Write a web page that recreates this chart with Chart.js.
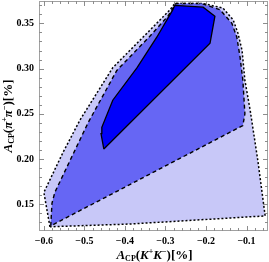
<!DOCTYPE html>
<html>
<head>
<meta charset="utf-8">
<script src="https://cdn.jsdelivr.net/npm/chart.js@4.4.0/dist/chart.umd.min.js"></script>
<style>
  html, body { margin: 0; padding: 0; background: #fff; }
</style>
</head>
<body>
<canvas id="acpChart" width="269" height="262"></canvas>
<script>
// tick values and labels
const xTicks = [-0.6, -0.5, -0.4, -0.3, -0.2, -0.1];
const xTickLabels = ['\u22120.6', '\u22120.5', '\u22120.4', '\u22120.3', '\u22120.2', '\u22120.1'];
const yTicks = [0.15, 0.20, 0.25, 0.30, 0.35];
const yTickLabels = ['0.15', '0.20', '0.25', '0.30', '0.35'];

// outer region (dotted border), A_CP(K+K-) and A_CP(pi+pi-) in %
const outerK  = [-0.585, -0.600, -0.553, -0.511, -0.430, -0.346, -0.289, -0.277, -0.207, -0.158, -0.133, -0.121, -0.111, -0.104, -0.091, -0.072, -0.054, -0.388];
const outerPi = [ 0.125,  0.163,  0.207,  0.243,  0.301,  0.339,  0.365,  0.372,  0.372,  0.367,  0.354,  0.339,  0.320,  0.287,  0.254,  0.198,  0.137,  0.128];

// middle region (dashed border)
const midK  = [-0.583, -0.580, -0.573, -0.491, -0.420, -0.338, -0.294, -0.274, -0.210, -0.165, -0.136, -0.124, -0.116, -0.109, -0.104, -0.109];
const midPi = [ 0.126,  0.151,  0.163,  0.240,  0.298,  0.336,  0.358,  0.372,  0.372,  0.365,  0.350,  0.335,  0.313,  0.287,  0.250,  0.237];

// inner region (solid border)
const innerK  = [-0.452, -0.459, -0.457, -0.430, -0.370, -0.321, -0.282, -0.277, -0.207, -0.178, -0.190];
const innerPi = [ 0.211,  0.228,  0.235,  0.265,  0.301,  0.335,  0.365,  0.370,  0.368,  0.358,  0.328];

const xMin = -0.612, xMax = -0.047;
const yMin = 0.1203, yMax = 0.3748;

function polygon(xs, ys) {
  const pts = xs.map((x, i) => ({ x, y: ys[i] }));
  pts.push({ x: xs[0], y: ys[0] });
  return pts;
}

function steps(from, to, step) {
  const out = [];
  for (let i = 0; from + i * step <= to + 1e-9; i++) out.push(+(from + i * step).toFixed(4));
  return out;
}
const xMinor = steps(-0.60, -0.06, 0.02);
const yMinor = steps(0.13, 0.37, 0.01);

const isMajor = (v, majors) => majors.some(m => Math.abs(m - v) < 1e-6);

const labelFont = { family: 'Liberation Serif', size: 10, weight: 'bold' };

function noPadding(s) {
  s.paddingTop = 0; s.paddingBottom = 0; s.paddingLeft = 0; s.paddingRight = 0;
}

// frame with inward ticks on all sides
const frame = {
  id: 'frame',
  afterDraw(chart) {
    const { ctx, chartArea: a, scales: { x, y } } = chart;
    ctx.save();
    ctx.strokeStyle = '#a0a0a0';
    ctx.lineWidth = 1;
    ctx.strokeRect(a.left + 0.5, a.top + 0.5, a.right - a.left - 1, a.bottom - a.top - 1);
    ctx.strokeStyle = '#8c8c8c';
    ctx.beginPath();
    xMinor.forEach(v => {
      const px = Math.round(x.getPixelForValue(v)) + 0.5;
      const len = isMajor(v, xTicks) ? 5 : 3;
      ctx.moveTo(px, a.bottom); ctx.lineTo(px, a.bottom - len);
      ctx.moveTo(px, a.top); ctx.lineTo(px, a.top + len);
    });
    yMinor.forEach(v => {
      const py = Math.round(y.getPixelForValue(v)) + 0.5;
      const len = isMajor(v, yTicks) ? 5 : 3;
      ctx.moveTo(a.left, py); ctx.lineTo(a.left + len, py);
      ctx.moveTo(a.right, py); ctx.lineTo(a.right - len, py);
    });
    ctx.stroke();
    ctx.restore();
  }
};

// axis titles with sub/superscripts
function drawRich(ctx, parts, cx, baseline) {
  let w = 0;
  parts.forEach(p => { ctx.font = p.f; p.w = ctx.measureText(p.t).width; w += p.w; });
  let xx = cx - w / 2;
  ctx.textAlign = 'left';
  ctx.textBaseline = 'alphabetic';
  parts.forEach(p => {
    ctx.font = p.f;
    ctx.fillText(p.t, xx, baseline + (p.dy || 0));
    xx += p.w;
  });
}

const big = 'bold 13px "Liberation Serif"';
const bigIt = 'italic bold 13px "Liberation Serif"';
const small = 'bold 8px "Liberation Serif"';

function titleParts(sym) {
  return [
    { t: 'A', f: bigIt },
    { t: 'CP', f: small, dy: 2 },
    { t: '(', f: big },
    { t: sym, f: bigIt },
    { t: '+', f: small, dy: -5 },
    { t: sym, f: bigIt },
    { t: '\u2212', f: small, dy: -5 },
    { t: ')[%]', f: big }
  ];
}

const titles = {
  id: 'titles',
  afterDraw(chart) {
    const { ctx, chartArea: a } = chart;
    ctx.save();
    ctx.fillStyle = '#000';
    drawRich(ctx, titleParts('K'), (a.left + a.right) / 2 + 1, 259);
    ctx.translate(12, (a.top + a.bottom) / 2);
    ctx.rotate(-Math.PI / 2);
    drawRich(ctx, titleParts('\u03C0'), 0, 0);
    ctx.restore();
  }
};

const ctx = document.getElementById('acpChart').getContext('2d');

new Chart(ctx, {
  type: 'scatter',
  data: {
    datasets: [
      {
        label: 'inner',
        data: polygon(innerK, innerPi),
        showLine: true,
        fill: 'shape',
        backgroundColor: '#0000fa',
        borderColor: '#000',
        borderWidth: 1.3,
        pointRadius: 0,
        pointHoverRadius: 0,
        tension: 0,
        order: 0
      },
      {
        label: 'middle',
        data: polygon(midK, midPi),
        showLine: true,
        fill: 'shape',
        backgroundColor: '#6666f4',
        borderColor: '#000',
        borderWidth: 1.4,
        borderDash: [4, 3],
        pointRadius: 0,
        pointHoverRadius: 0,
        tension: 0,
        order: 1
      },
      {
        label: 'outer',
        data: polygon(outerK, outerPi),
        showLine: true,
        fill: 'shape',
        backgroundColor: '#c8c8f8',
        borderColor: '#000',
        borderWidth: 1.5,
        borderDash: [2, 2],
        pointRadius: 0,
        pointHoverRadius: 0,
        tension: 0,
        order: 2
      }
    ]
  },
  options: {
    responsive: false,
    animation: false,
    devicePixelRatio: 1,
    events: [],
    layout: { autoPadding: false, padding: { top: 1, right: 1, left: 0, bottom: 0 } },
    plugins: { legend: { display: false }, tooltip: { enabled: false } },
    scales: {
      x: {
        type: 'linear',
        min: xMin,
        max: xMax,
        afterBuildTicks: s => { s.ticks = xMinor.map(v => ({ value: v })); },
        afterFit: s => { s.height = 31; noPadding(s); },
        grid: { display: false, drawTicks: false },
        border: { display: false },
        ticks: {
          autoSkip: false,
          maxRotation: 0,
          padding: 4,
          color: '#000',
          font: labelFont,
          callback: v => {
            const i = xTicks.findIndex(m => Math.abs(m - v) < 1e-6);
            return i >= 0 ? xTickLabels[i] : '';
          }
        }
      },
      y: {
        type: 'linear',
        min: yMin,
        max: yMax,
        afterBuildTicks: s => { s.ticks = yMinor.map(v => ({ value: v })); },
        afterFit: s => { s.width = 39; noPadding(s); },
        grid: { display: false, drawTicks: false },
        border: { display: false },
        ticks: {
          autoSkip: false,
          padding: 5,
          color: '#000',
          font: labelFont,
          callback: v => {
            const i = yTicks.findIndex(m => Math.abs(m - v) < 1e-6);
            return i >= 0 ? yTickLabels[i] : '';
          }
        }
      }
    }
  },
  plugins: [frame, titles]
});
</script>
</body>
</html>
